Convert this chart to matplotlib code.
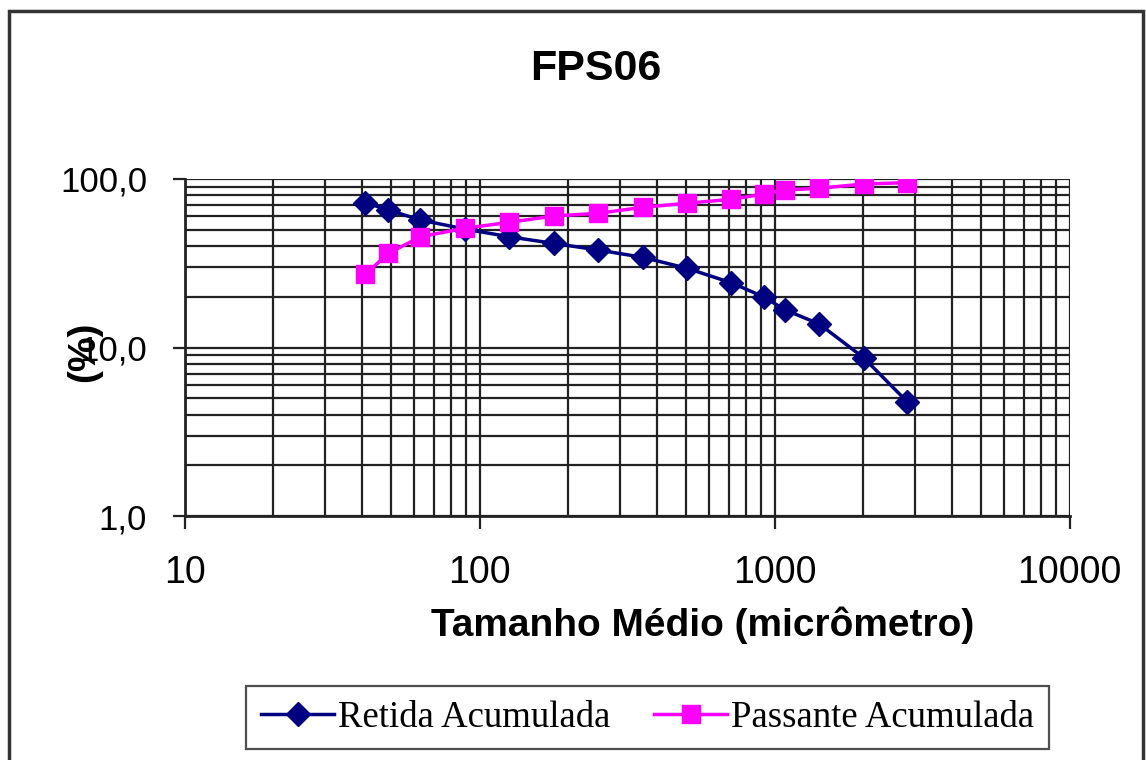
import matplotlib
matplotlib.use("Agg")
import matplotlib.pyplot as plt
from matplotlib.patches import Rectangle
from matplotlib.ticker import FixedLocator, FixedFormatter, LogLocator, NullFormatter

# mean particle size (micrometre) of each sieve fraction
tamanho = [41, 49, 63, 89, 126, 178, 252, 357, 505, 714, 922, 1086, 1416, 2003, 2812]
# cumulative retained / passing (%)
retida = [72.3, 65.5, 57.1, 50.5, 45.4, 41.5, 37.9, 34.3, 29.5, 24.2, 19.9, 16.7, 13.8, 8.7, 4.77]
passante = [27.2, 36.2, 45.4, 51.0, 55.3, 60.3, 62.6, 67.9, 71.8, 75.8, 81.5, 86.1, 88.1, 93.4, 95.1]

xticks = [10, 100, 1000, 10000]
xlabels = ["10", "100", "1000", "10000"]
yticks = [1, 10, 100]
ylabels = ["1,0", "10,0", "100,0"]

sans = ["Liberation Sans", "DejaVu Sans"]
serif = ["Liberation Serif", "DejaVu Serif"]
W, H = 1146, 760

fig = plt.figure(figsize=(W / 100, H / 100), dpi=100)
ax = fig.add_axes([184.7 / W, 1 - 516 / H, 884.9 / W, 337 / H])

ax.plot(tamanho, retida, color="#000080", lw=2.5, marker="D", ms=12,
        mec="#000080", mfc="#000080", label="Retida Acumulada", zorder=4)
ax.plot(tamanho, passante, color="#FF00FF", lw=2.5, marker="s", ms=13,
        mec="#FF00FF", mfc="#FF00FF", label="Passante Acumulada", zorder=4)

ax.set_xscale("log")
ax.set_yscale("log")
ax.set_xlim(10, 10000)
ax.set_ylim(1, 100)

ax.xaxis.set_major_locator(FixedLocator(xticks))
ax.xaxis.set_major_formatter(FixedFormatter(xlabels))
ax.yaxis.set_major_locator(FixedLocator(yticks))
ax.yaxis.set_major_formatter(FixedFormatter(ylabels))
for axis in (ax.xaxis, ax.yaxis):
    axis.set_minor_locator(LogLocator(base=10, subs=range(2, 10)))
    axis.set_minor_formatter(NullFormatter())

ax.grid(True, which="both", color="#222222", lw=1.6)
ax.tick_params(axis="x", which="major", direction="out", length=9, width=1.6,
               color="#222222", pad=19, labelsize=27)
ax.tick_params(axis="y", which="major", direction="out", length=9, width=1.6,
               color="#222222", pad=18, labelsize=25)
ax.tick_params(which="minor", length=0)
for lbl in ax.get_xticklabels() + ax.get_yticklabels():
    lbl.set_family(sans)

for s in ("top", "right"):
    ax.spines[s].set_visible(False)
for s in ("left", "bottom"):
    ax.spines[s].set_color("#222222")
    ax.spines[s].set_linewidth(2)

fig.text(596 / W, 1 - 69 / H, "FPS06", ha="center", va="center", fontsize=31,
         fontweight="bold", family=sans)
ax.set_xlabel("Tamanho Médio (micrômetro)", fontsize=28, fontweight="bold",
              family=sans)
ax.xaxis.set_label_coords((703 - 184.7) / 884.9, -0.27)
ax.set_ylabel("(%)", fontsize=28, fontweight="bold", family=sans)
ax.yaxis.set_label_coords((102 - 184.7) / 884.9, 0.487)

leg = fig.legend(loc="center", bbox_to_anchor=(246 / W, 12 / H, 803 / W, 61 / H),
                 mode="expand", ncol=2, prop={"family": serif, "size": 26.5},
                 frameon=True, fancybox=False, edgecolor="#222222",
                 handlelength=2.0, handletextpad=0.1, columnspacing=0.8,
                 borderpad=0.4, borderaxespad=0)
leg.get_frame().set_linewidth(1.6)

# outer chart border (bottom edge runs off the image)
fig.add_artist(Rectangle((9 / W, -0.05), (1142.5 - 9) / W, 1.05 - 10.7 / H,
                         transform=fig.transFigure, fill=False,
                         edgecolor="#333333", lw=2.5))

fig.savefig("out.png", dpi=100)
